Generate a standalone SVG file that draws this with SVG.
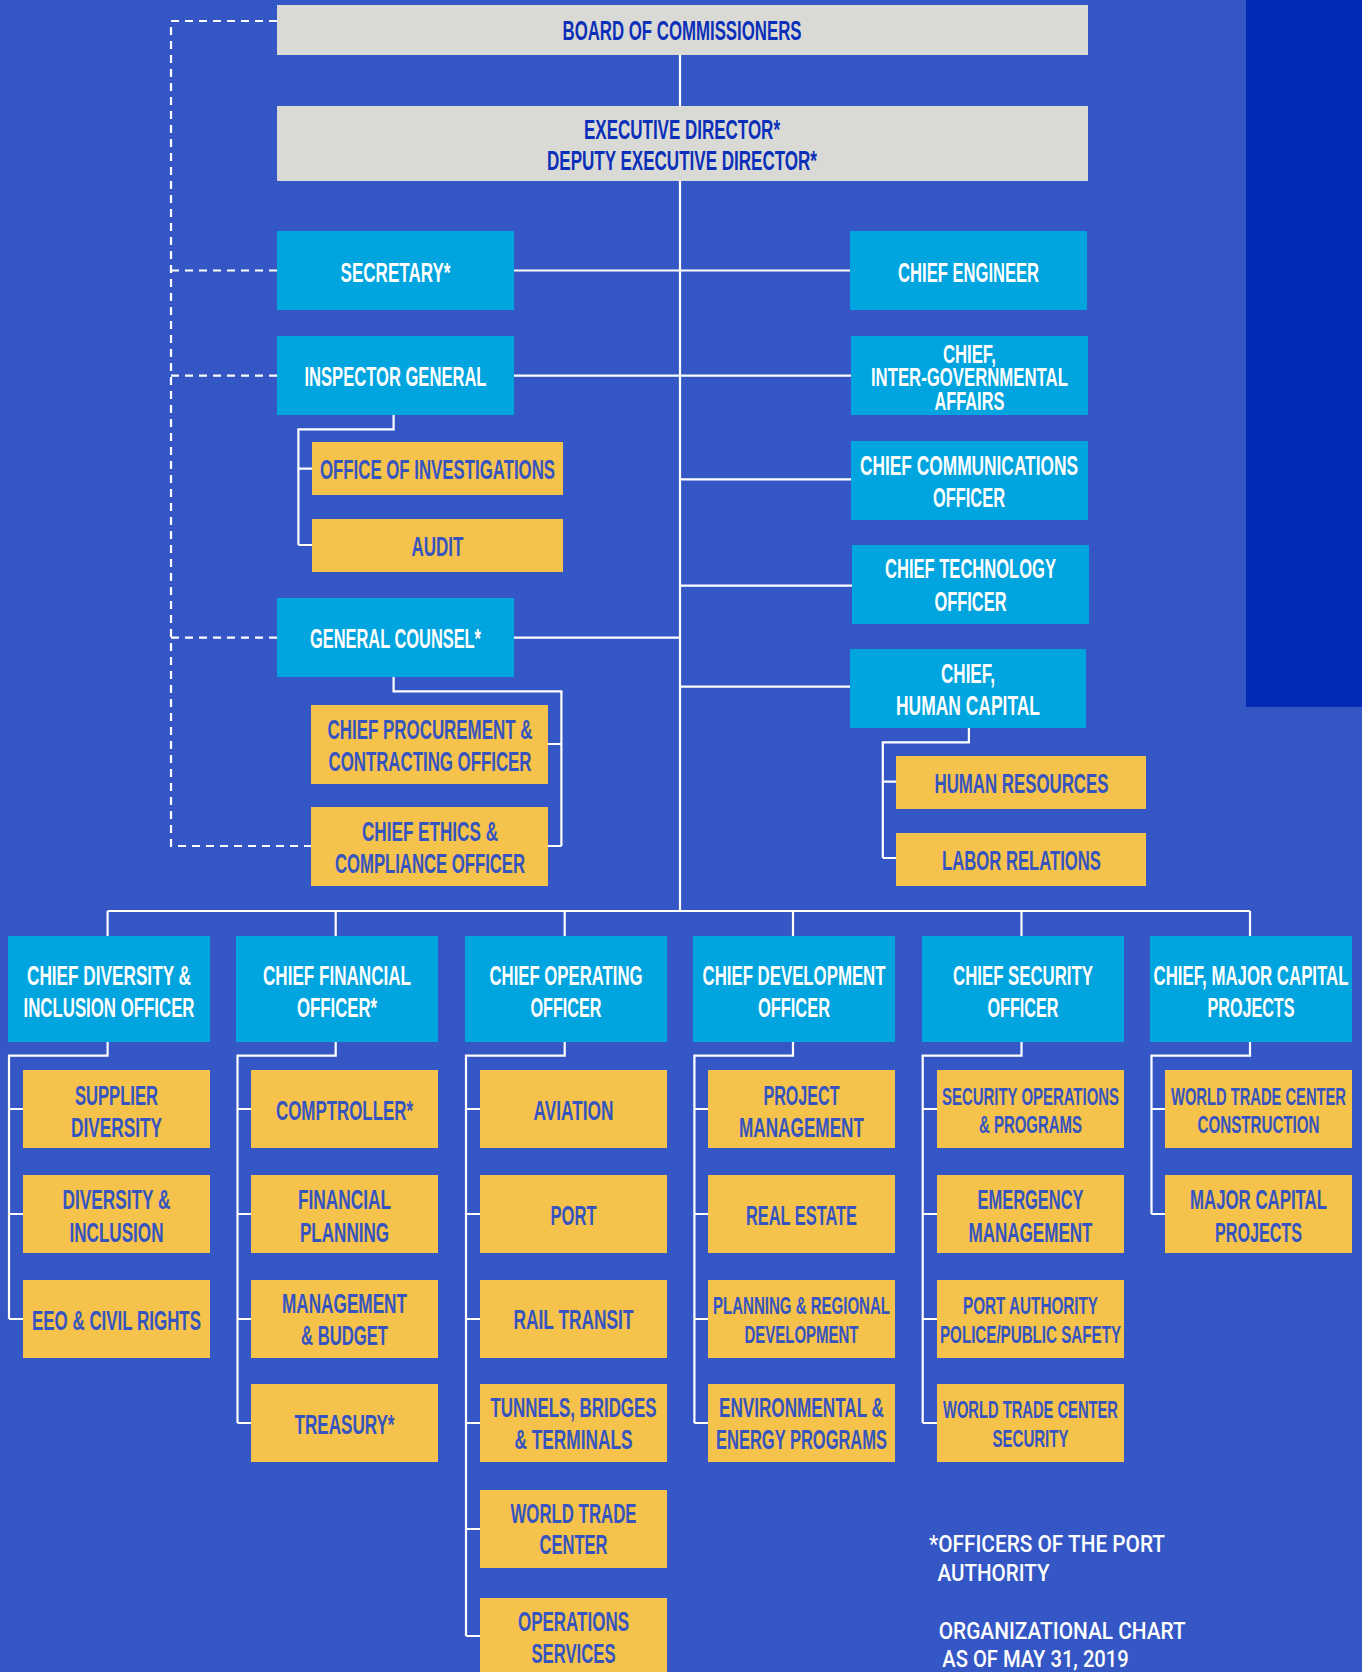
<svg xmlns="http://www.w3.org/2000/svg" width="1362" height="1672" viewBox="0 0 1362 1672">
<defs>
<style>
.grey{fill:#d9dad6}
.cyan{fill:#00a4de}
.gold{fill:#f5c24c}
text{font-family:"Liberation Sans Narrow","Liberation Sans",Arial,sans-serif;font-weight:700;font-size:27px;text-anchor:middle}
.tg{fill:#0b2fb8}
.tw{fill:#ffffff}
.tb{fill:#3654c0}
.sm{font-size:24px}
.xs{font-size:25px}
.note{fill:#ffffff;font-family:Roboto,"Liberation Sans",sans-serif;font-weight:500;font-size:23px;text-anchor:start}
.ln{fill:none;stroke:#ffffff;stroke-width:2.2}
.dash{fill:none;stroke:#ffffff;stroke-width:2.2;stroke-dasharray:8 6}
</style>
</defs>
<rect x="0" y="0" width="1362" height="1672" fill="#3557c5"/>
<rect x="1246" y="0" width="116" height="707" fill="#022bb5"/>

<g id="connectors">
<path class="dash" d="M277 21 H171 V846 H311"/>
<path class="dash" d="M171 270.5 H277 M171 375.7 H277 M171 637.7 H277"/>
<path class="ln" d="M680 55 V911"/>
<path class="ln" d="M514 270.5 H850 M514 375.7 H851 M680 479.3 H851 M680 585.7 H852 M514 637.7 H680 M680 686.7 H850"/>
<path class="ln" d="M393.6 415 V429.3 H298.4 V545 M298.4 468.7 H312 M298.4 545 H312"/>
<path class="ln" d="M393.6 677 V691.3 H561.4 V846 M548 744 H561.4 M548 846 H561.4"/>
<path class="ln" d="M968.9 728 V742.3 H882.8 V858 M882.8 781.7 H896 M882.8 858 H896"/>
<path class="ln" d="M107.6 911 H1250 M107.6 911 V936 M335.7 911 V936 M564.7 911 V936 M793 911 V936 M1021.5 911 V936 M1250 911 V936"/>
<path class="ln" d="M107.6 1042 V1055.7 H9 V1319 M9 1109 H23 M9 1214 H23 M9 1319 H23"/>
<path class="ln" d="M335.7 1042 V1055.7 H237.5 V1423 M237.5 1109 H251 M237.5 1214 H251 M237.5 1319 H251 M237.5 1423 H251"/>
<path class="ln" d="M564.7 1042 V1055.7 H466 V1636 M466 1109 H480 M466 1214 H480 M466 1319 H480 M466 1423 H480 M466 1529 H480 M466 1636 H480"/>
<path class="ln" d="M793 1042 V1055.7 H694.4 V1423 M694.4 1109 H708 M694.4 1214 H708 M694.4 1319 H708 M694.4 1423 H708"/>
<path class="ln" d="M1021.5 1042 V1055.7 H922.7 V1423 M922.7 1109 H937 M922.7 1214 H937 M922.7 1319 H937 M922.7 1423 H937"/>
<path class="ln" d="M1250 1042 V1055.7 H1151.5 V1214 M1151.5 1109 H1165 M1151.5 1214 H1165"/>
</g>

<g id="board"><rect class="grey" x="277" y="5" width="811" height="50"/><text class="tg" x="682" y="40" textLength="239" lengthAdjust="spacingAndGlyphs">BOARD OF COMMISSIONERS</text></g>
<g id="executive-director"><rect class="grey" x="277" y="106" width="811" height="75"/><text class="tg" x="682" y="138.5" textLength="196" lengthAdjust="spacingAndGlyphs">EXECUTIVE DIRECTOR*</text><text class="tg" x="682" y="170" textLength="270" lengthAdjust="spacingAndGlyphs">DEPUTY EXECUTIVE DIRECTOR*</text></g>

<g id="secretary"><rect class="cyan" x="277" y="231" width="237" height="79"/><text class="tw" x="395.5" y="281.5" textLength="110" lengthAdjust="spacingAndGlyphs">SECRETARY*</text></g>
<g id="chief-engineer"><rect class="cyan" x="850" y="231" width="237" height="79"/><text class="tw" x="968.6" y="281.5" textLength="141" lengthAdjust="spacingAndGlyphs">CHIEF ENGINEER</text></g>
<g id="inspector-general"><rect class="cyan" x="277" y="336" width="237" height="79"/><text class="tw" x="395.5" y="386" textLength="182" lengthAdjust="spacingAndGlyphs">INSPECTOR GENERAL</text></g>
<g id="chief-intergov"><rect class="cyan" x="851" y="336" width="237" height="79"/><text class="tw xs" x="969.4" y="362.5" textLength="53" lengthAdjust="spacingAndGlyphs">CHIEF,</text><text class="tw xs" x="969.4" y="386" textLength="197" lengthAdjust="spacingAndGlyphs">INTER-GOVERNMENTAL</text><text class="tw xs" x="969.4" y="410" textLength="70" lengthAdjust="spacingAndGlyphs">AFFAIRS</text></g>
<g id="office-investigations"><rect class="gold" x="312" y="442" width="251" height="53"/><text class="tb" x="437.5" y="479.3" textLength="235" lengthAdjust="spacingAndGlyphs">OFFICE OF INVESTIGATIONS</text></g>
<g id="audit"><rect class="gold" x="312" y="519" width="251" height="53"/><text class="tb" x="437.5" y="556" textLength="52" lengthAdjust="spacingAndGlyphs">AUDIT</text></g>
<g id="chief-communications"><rect class="cyan" x="851" y="441" width="237" height="79"/><text class="tw" x="969" y="475" textLength="218" lengthAdjust="spacingAndGlyphs">CHIEF COMMUNICATIONS</text><text class="tw" x="969" y="507.3" textLength="72" lengthAdjust="spacingAndGlyphs">OFFICER</text></g>
<g id="chief-technology"><rect class="cyan" x="852" y="545" width="237" height="79"/><text class="tw" x="970.5" y="578.3" textLength="171" lengthAdjust="spacingAndGlyphs">CHIEF TECHNOLOGY</text><text class="tw" x="970.5" y="610.7" textLength="72" lengthAdjust="spacingAndGlyphs">OFFICER</text></g>
<g id="general-counsel"><rect class="cyan" x="277" y="598" width="237" height="79"/><text class="tw" x="395.5" y="648.3" textLength="171" lengthAdjust="spacingAndGlyphs">GENERAL COUNSEL*</text></g>
<g id="chief-human-capital"><rect class="cyan" x="850" y="649" width="236" height="79"/><text class="tw" x="968" y="683.3" textLength="54" lengthAdjust="spacingAndGlyphs">CHIEF,</text><text class="tw" x="968" y="715" textLength="144" lengthAdjust="spacingAndGlyphs">HUMAN CAPITAL</text></g>
<g id="chief-procurement"><rect class="gold" x="311" y="705" width="237" height="79"/><text class="tb" x="430" y="739.3" textLength="205" lengthAdjust="spacingAndGlyphs">CHIEF PROCUREMENT &amp;</text><text class="tb" x="430" y="771" textLength="203" lengthAdjust="spacingAndGlyphs">CONTRACTING OFFICER</text></g>
<g id="chief-ethics"><rect class="gold" x="311" y="807" width="237" height="79"/><text class="tb" x="430" y="841" textLength="136" lengthAdjust="spacingAndGlyphs">CHIEF ETHICS &amp;</text><text class="tb" x="430" y="872.7" textLength="190" lengthAdjust="spacingAndGlyphs">COMPLIANCE OFFICER</text></g>
<g id="human-resources"><rect class="gold" x="896" y="756" width="250" height="53"/><text class="tb" x="1021.5" y="793.3" textLength="174" lengthAdjust="spacingAndGlyphs">HUMAN RESOURCES</text></g>
<g id="labor-relations"><rect class="gold" x="896" y="833" width="250" height="53"/><text class="tb" x="1021.5" y="870" textLength="159" lengthAdjust="spacingAndGlyphs">LABOR RELATIONS</text></g>

<g id="chief-diversity"><rect class="cyan" x="8" y="936" width="202" height="106"/><text class="tw" x="109" y="985" textLength="164" lengthAdjust="spacingAndGlyphs">CHIEF DIVERSITY &amp;</text><text class="tw" x="109" y="1016.7" textLength="171" lengthAdjust="spacingAndGlyphs">INCLUSION OFFICER</text></g>
<g id="chief-financial"><rect class="cyan" x="236" y="936" width="202" height="106"/><text class="tw" x="337" y="985" textLength="148" lengthAdjust="spacingAndGlyphs">CHIEF FINANCIAL</text><text class="tw" x="337" y="1016.7" textLength="80" lengthAdjust="spacingAndGlyphs">OFFICER*</text></g>
<g id="chief-operating"><rect class="cyan" x="465" y="936" width="202" height="106"/><text class="tw" x="566" y="985" textLength="153" lengthAdjust="spacingAndGlyphs">CHIEF OPERATING</text><text class="tw" x="566" y="1016.7" textLength="71" lengthAdjust="spacingAndGlyphs">OFFICER</text></g>
<g id="chief-development"><rect class="cyan" x="693" y="936" width="202" height="106"/><text class="tw" x="794" y="985" textLength="183" lengthAdjust="spacingAndGlyphs">CHIEF DEVELOPMENT</text><text class="tw" x="794" y="1016.7" textLength="72" lengthAdjust="spacingAndGlyphs">OFFICER</text></g>
<g id="chief-security"><rect class="cyan" x="922" y="936" width="202" height="106"/><text class="tw" x="1023" y="985" textLength="140" lengthAdjust="spacingAndGlyphs">CHIEF SECURITY</text><text class="tw" x="1023" y="1016.7" textLength="71" lengthAdjust="spacingAndGlyphs">OFFICER</text></g>
<g id="chief-major-capital"><rect class="cyan" x="1150" y="936" width="202" height="106"/><text class="tw" x="1251" y="985" textLength="195" lengthAdjust="spacingAndGlyphs">CHIEF, MAJOR CAPITAL</text><text class="tw" x="1251" y="1016.7" textLength="87" lengthAdjust="spacingAndGlyphs">PROJECTS</text></g>

<g id="supplier-diversity"><rect class="gold" x="23" y="1070" width="187" height="78"/><text class="tb" x="116.5" y="1105" textLength="83" lengthAdjust="spacingAndGlyphs">SUPPLIER</text><text class="tb" x="116.5" y="1136.7" textLength="91" lengthAdjust="spacingAndGlyphs">DIVERSITY</text></g>
<g id="diversity-inclusion"><rect class="gold" x="23" y="1175" width="187" height="78"/><text class="tb" x="116.5" y="1209.3" textLength="108" lengthAdjust="spacingAndGlyphs">DIVERSITY &amp;</text><text class="tb" x="116.5" y="1241.7" textLength="94" lengthAdjust="spacingAndGlyphs">INCLUSION</text></g>
<g id="eeo-civil-rights"><rect class="gold" x="23" y="1280" width="187" height="78"/><text class="tb" x="116.5" y="1330" textLength="169" lengthAdjust="spacingAndGlyphs">EEO &amp; CIVIL RIGHTS</text></g>

<g id="comptroller"><rect class="gold" x="251" y="1070" width="187" height="78"/><text class="tb" x="344.5" y="1120" textLength="137" lengthAdjust="spacingAndGlyphs">COMPTROLLER*</text></g>
<g id="financial-planning"><rect class="gold" x="251" y="1175" width="187" height="78"/><text class="tb" x="344.5" y="1209.3" textLength="93" lengthAdjust="spacingAndGlyphs">FINANCIAL</text><text class="tb" x="344.5" y="1241.7" textLength="89" lengthAdjust="spacingAndGlyphs">PLANNING</text></g>
<g id="management-budget"><rect class="gold" x="251" y="1280" width="187" height="78"/><text class="tb" x="344.5" y="1313.3" textLength="125" lengthAdjust="spacingAndGlyphs">MANAGEMENT</text><text class="tb" x="344.5" y="1345" textLength="87" lengthAdjust="spacingAndGlyphs">&amp; BUDGET</text></g>
<g id="treasury"><rect class="gold" x="251" y="1384" width="187" height="78"/><text class="tb" x="344.5" y="1434" textLength="100" lengthAdjust="spacingAndGlyphs">TREASURY*</text></g>

<g id="aviation"><rect class="gold" x="480" y="1070" width="187" height="78"/><text class="tb" x="573.5" y="1120" textLength="80" lengthAdjust="spacingAndGlyphs">AVIATION</text></g>
<g id="port"><rect class="gold" x="480" y="1175" width="187" height="78"/><text class="tb" x="573.5" y="1225" textLength="46" lengthAdjust="spacingAndGlyphs">PORT</text></g>
<g id="rail-transit"><rect class="gold" x="480" y="1280" width="187" height="78"/><text class="tb" x="573.5" y="1329.3" textLength="120" lengthAdjust="spacingAndGlyphs">RAIL TRANSIT</text></g>
<g id="tunnels-bridges"><rect class="gold" x="480" y="1384" width="187" height="78"/><text class="tb" x="573.5" y="1417.3" textLength="166" lengthAdjust="spacingAndGlyphs">TUNNELS, BRIDGES</text><text class="tb" x="573.5" y="1449" textLength="118" lengthAdjust="spacingAndGlyphs">&amp; TERMINALS</text></g>
<g id="world-trade-center"><rect class="gold" x="480" y="1490" width="187" height="78"/><text class="tb" x="573.5" y="1522.7" textLength="126" lengthAdjust="spacingAndGlyphs">WORLD TRADE</text><text class="tb" x="573.5" y="1554.3" textLength="68" lengthAdjust="spacingAndGlyphs">CENTER</text></g>
<g id="operations-services"><rect class="gold" x="480" y="1598" width="187" height="78"/><text class="tb" x="573.5" y="1631" textLength="111" lengthAdjust="spacingAndGlyphs">OPERATIONS</text><text class="tb" x="573.5" y="1663.3" textLength="84" lengthAdjust="spacingAndGlyphs">SERVICES</text></g>

<g id="project-management"><rect class="gold" x="708" y="1070" width="187" height="78"/><text class="tb" x="801.5" y="1105" textLength="76" lengthAdjust="spacingAndGlyphs">PROJECT</text><text class="tb" x="801.5" y="1136.7" textLength="125" lengthAdjust="spacingAndGlyphs">MANAGEMENT</text></g>
<g id="real-estate"><rect class="gold" x="708" y="1175" width="187" height="78"/><text class="tb" x="801.5" y="1225" textLength="111" lengthAdjust="spacingAndGlyphs">REAL ESTATE</text></g>
<g id="planning-regional"><rect class="gold" x="708" y="1280" width="187" height="78"/><text class="tb sm" x="801.5" y="1314" textLength="177" lengthAdjust="spacingAndGlyphs">PLANNING &amp; REGIONAL</text><text class="tb sm" x="801.5" y="1343" textLength="114" lengthAdjust="spacingAndGlyphs">DEVELOPMENT</text></g>
<g id="environmental-energy"><rect class="gold" x="708" y="1384" width="187" height="78"/><text class="tb" x="801.5" y="1417.3" textLength="165" lengthAdjust="spacingAndGlyphs">ENVIRONMENTAL &amp;</text><text class="tb" x="801.5" y="1449.3" textLength="171" lengthAdjust="spacingAndGlyphs">ENERGY PROGRAMS</text></g>

<g id="security-operations"><rect class="gold" x="937" y="1070" width="187" height="78"/><text class="tb sm" x="1030.5" y="1105" textLength="177" lengthAdjust="spacingAndGlyphs">SECURITY OPERATIONS</text><text class="tb sm" x="1030.5" y="1133.3" textLength="103" lengthAdjust="spacingAndGlyphs">&amp; PROGRAMS</text></g>
<g id="emergency-management"><rect class="gold" x="937" y="1175" width="187" height="78"/><text class="tb" x="1030.5" y="1209.3" textLength="106" lengthAdjust="spacingAndGlyphs">EMERGENCY</text><text class="tb" x="1030.5" y="1241.7" textLength="124" lengthAdjust="spacingAndGlyphs">MANAGEMENT</text></g>
<g id="port-authority-police"><rect class="gold" x="937" y="1280" width="187" height="78"/><text class="tb sm" x="1030.5" y="1314" textLength="135" lengthAdjust="spacingAndGlyphs">PORT AUTHORITY</text><text class="tb sm" x="1030.5" y="1342.7" textLength="181" lengthAdjust="spacingAndGlyphs">POLICE/PUBLIC SAFETY</text></g>
<g id="wtc-security"><rect class="gold" x="937" y="1384" width="187" height="78"/><text class="tb sm" x="1030.5" y="1418.3" textLength="175" lengthAdjust="spacingAndGlyphs">WORLD TRADE CENTER</text><text class="tb sm" x="1030.5" y="1446.7" textLength="76" lengthAdjust="spacingAndGlyphs">SECURITY</text></g>

<g id="wtc-construction"><rect class="gold" x="1165" y="1070" width="187" height="78"/><text class="tb sm" x="1258.5" y="1105" textLength="175" lengthAdjust="spacingAndGlyphs">WORLD TRADE CENTER</text><text class="tb sm" x="1258.5" y="1133" textLength="122" lengthAdjust="spacingAndGlyphs">CONSTRUCTION</text></g>
<g id="major-capital-projects"><rect class="gold" x="1165" y="1175" width="187" height="78"/><text class="tb" x="1258.5" y="1209.3" textLength="137" lengthAdjust="spacingAndGlyphs">MAJOR CAPITAL</text><text class="tb" x="1258.5" y="1241.7" textLength="87" lengthAdjust="spacingAndGlyphs">PROJECTS</text></g>

<g id="footnote">
<text class="note" x="929" y="1551.7" textLength="236" lengthAdjust="spacingAndGlyphs">*OFFICERS OF THE PORT</text>
<text class="note" x="937.5" y="1580.7" textLength="112" lengthAdjust="spacingAndGlyphs">AUTHORITY</text>
<text class="note" x="938.7" y="1639.3" textLength="247" lengthAdjust="spacingAndGlyphs">ORGANIZATIONAL CHART</text>
<text class="note" x="942.3" y="1666.7" textLength="186.5" lengthAdjust="spacingAndGlyphs">AS OF MAY 31, 2019</text>
</g>
</svg>
